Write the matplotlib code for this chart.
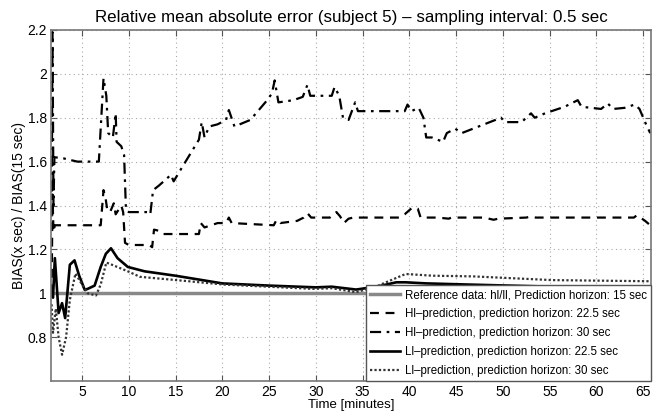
import matplotlib
matplotlib.use('Agg')
import matplotlib.pyplot as plt

plt.rcParams['font.family'] = ['Liberation Sans', 'DejaVu Sans']

# Reference data (ratio 1 everywhere)
t_ref = [1.75, 65.75]
ref = [1.0, 1.0]

# HI-prediction, 22.5 sec
t_hi22 = [1.75, 1.85, 1.95, 2.1, 7.0, 7.3, 7.5, 7.7, 8.0, 8.4, 8.6, 8.9, 9.2, 9.4, 9.6, 10.0,
          12.2, 12.5, 12.7, 13.2, 13.6, 17.5, 17.7, 18.1, 19.5, 20.4, 20.7, 21.0, 25.5, 25.8,
          26.2, 28.0, 28.7, 29.1, 29.5, 31.5, 32.2, 32.6, 33.0, 33.5, 34.0, 38.9, 39.5, 40.3,
          40.9, 41.2, 43.0, 44.2, 44.5, 48.0, 49.0, 49.5, 52.5, 53.0, 53.5, 64.0, 64.3, 64.7,
          65.2, 65.75]
hi22 = [1.0, 1.45, 1.28, 1.31, 1.31, 1.47, 1.44, 1.38, 1.37, 1.41, 1.36, 1.38, 1.40, 1.37, 1.23, 1.22,
        1.22, 1.21, 1.29, 1.285, 1.27, 1.27, 1.32, 1.30, 1.32, 1.32, 1.345, 1.32, 1.31, 1.335,
        1.32, 1.33, 1.345, 1.365, 1.345, 1.345, 1.37, 1.35, 1.32, 1.34, 1.345, 1.345, 1.36, 1.39,
        1.385, 1.345, 1.345, 1.34, 1.345, 1.345, 1.335, 1.34, 1.345, 1.35, 1.345, 1.345, 1.355, 1.345,
        1.33, 1.31]

# HI-prediction, 30 sec
t_hi30 = [1.75, 1.85, 1.95, 2.05, 3.0, 4.5, 6.8, 7.3, 7.6, 7.8, 8.3, 8.6, 8.7, 9.2, 9.5, 9.7,
          10.0, 12.1, 12.3, 12.6, 13.2, 14.0, 14.5, 14.8, 15.5, 17.5, 17.8, 18.1, 18.6, 19.5,
          20.4, 20.7, 21.3, 23.0, 24.6, 25.3, 25.6, 26.0, 27.6, 28.6, 29.1, 29.4, 31.7, 32.0,
          32.5, 32.9, 33.5, 34.2, 34.5, 39.5, 39.8, 40.2, 41.0, 41.5, 41.8, 42.4, 43.6, 44.0,
          44.9, 45.6, 49.8, 50.2, 52.0, 53.0, 53.4, 54.5, 56.6, 58.0, 58.4, 60.5, 61.2, 61.8,
          63.0, 64.1, 64.6, 65.0, 65.3, 65.75]
hi30 = [1.35, 2.19, 1.40, 1.62, 1.615, 1.60, 1.60, 1.98, 1.90, 1.73, 1.71, 1.82, 1.69, 1.67, 1.63, 1.38,
        1.37, 1.37, 1.36, 1.47, 1.49, 1.52, 1.54, 1.51, 1.56, 1.70, 1.78, 1.71, 1.76, 1.77,
        1.79, 1.835, 1.76, 1.79, 1.87, 1.91, 1.97, 1.87, 1.88, 1.895, 1.95, 1.90, 1.90, 1.94,
        1.90, 1.80, 1.79, 1.87, 1.83, 1.83, 1.86, 1.83, 1.845, 1.80, 1.71, 1.71, 1.69, 1.73,
        1.75, 1.73, 1.80, 1.78, 1.78, 1.82, 1.80, 1.82, 1.85, 1.88, 1.85, 1.84, 1.865, 1.84,
        1.845, 1.86, 1.84, 1.80, 1.77, 1.73]

# LI-prediction, 22.5 sec
t_li22 = [1.75, 1.9, 2.1, 2.5, 2.87, 3.2, 3.7, 4.2, 4.7, 5.3, 5.6, 6.35, 7.0, 7.55, 8.1, 8.8,
          9.9, 11.7, 15.0, 20.0, 25.0, 30.0, 31.7, 34.3, 36.5, 38.6, 39.6, 41.8, 46.1, 55.3,
          64.6, 65.75]
li22 = [1.0, 0.98, 1.16, 0.91, 0.955, 0.887, 1.13, 1.15, 1.08, 1.015, 1.02, 1.035, 1.12, 1.18, 1.205, 1.16,
        1.12, 1.10, 1.08, 1.045, 1.035, 1.027, 1.03, 1.017, 1.03, 1.05, 1.05, 1.045, 1.04, 1.03,
        1.027, 1.026]

# LI-prediction, 30 sec
t_li30 = [1.75, 1.9, 2.2, 2.5, 2.87, 3.3, 3.7, 4.3, 5.0, 5.6, 6.5, 7.0, 7.6, 8.2, 9.9, 11.2,
          15.1, 20.1, 29.7, 31.7, 34.3, 36.4, 38.6, 39.6, 42.5, 46.8, 55.3, 65.3, 65.75]
li30 = [0.95, 0.82, 0.93, 0.80, 0.72, 0.80, 0.97, 1.09, 1.04, 1.00, 0.99, 1.04, 1.14, 1.13, 1.10, 1.075,
        1.06, 1.04, 1.02, 1.023, 1.005, 1.03, 1.07, 1.088, 1.08, 1.077, 1.06, 1.055, 1.055]

fig, ax = plt.subplots(figsize=(6.64, 4.16), dpi=100)
fig.subplots_adjust(left=0.077, right=0.980, bottom=0.084, top=0.928)

ax.plot(t_ref, ref, color='#888888', linewidth=2.5, label='Reference data: hl/ll, Prediction horizon: 15 sec')
ax.plot(t_hi22, hi22, color='black', linestyle=(0, (4, 3)), linewidth=1.6,
        label='Hl\u2013prediction, prediction horizon: 22.5 sec')
ax.plot(t_hi30, hi30, color='black', linestyle=(0, (5, 2.5, 1.2, 2.5)), linewidth=1.6,
        label='Hl\u2013prediction, prediction horizon: 30 sec')
ax.plot(t_li22, li22, color='black', linestyle='-', linewidth=1.9,
        label='Ll\u2013prediction, prediction horizon: 22.5 sec')
ax.plot(t_li30, li30, color='#333333', linestyle=(0, (1, 1)), linewidth=1.6,
        label='Ll\u2013prediction, prediction horizon: 30 sec')

ax.set_xlim(1.7, 65.8)
ax.set_ylim(0.6, 2.2)
ax.set_xticks([5, 10, 15, 20, 25, 30, 35, 40, 45, 50, 55, 60, 65])
ax.set_yticks([0.8, 1, 1.2, 1.4, 1.6, 1.8, 2, 2.2])
ax.set_yticklabels(['0.8', '1', '1.2', '1.4', '1.6', '1.8', '2', '2.2'])
ax.tick_params(direction='in', top=True, right=True, labelsize=10, length=4, pad=3,
               colors='#555555', labelcolor='black')
ax.grid(True, linestyle=(0, (1, 3)), color='#aaaaaa', linewidth=0.8)
for s in ax.spines.values():
    s.set_color('#777777')
    s.set_linewidth(1.2)

ax.set_title('Relative mean absolute error (subject 5) \u2013 sampling interval: 0.5 sec', fontsize=12.2, pad=6)
ax.set_xlabel('Time [minutes]', fontsize=9.5, labelpad=0)
ax.set_ylabel('BIAS(x sec) / BIAS(15 sec)', fontsize=10, labelpad=1)

leg = ax.legend(loc='lower right', fontsize=8.3, borderaxespad=0, fancybox=False, framealpha=1,
                edgecolor='#555555', handlelength=2.6, handletextpad=0.4, labelspacing=0.6,
                borderpad=0.35)
leg.get_frame().set_linewidth(1.0)

plt.savefig('out.png')
